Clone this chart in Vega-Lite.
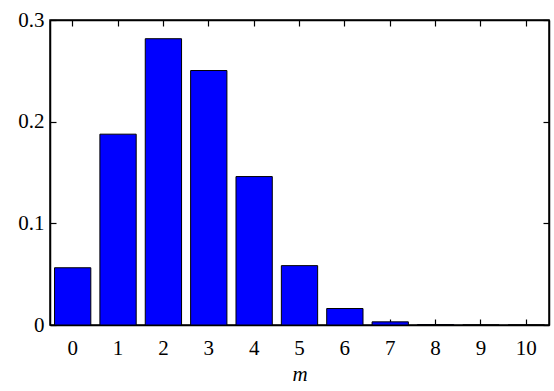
{
  "$schema": "https://vega.github.io/schema/vega-lite/v6.json",
  "width": 499,
  "height": 305,
  "autosize": {"type": "none"},
  "padding": {"left": 50, "top": 20, "right": 5, "bottom": 66},
  "background": "white",
  "view": {"stroke": "black", "strokeWidth": 1.5},
  "data": {
    "values": [
      {"m": 0, "p": 0.0563},
      {"m": 1, "p": 0.1877},
      {"m": 2, "p": 0.2816},
      {"m": 3, "p": 0.2503},
      {"m": 4, "p": 0.146},
      {"m": 5, "p": 0.0584},
      {"m": 6, "p": 0.0162},
      {"m": 7, "p": 0.0031},
      {"m": 8, "p": 0.0004},
      {"m": 9, "p": 0.00003},
      {"m": 10, "p": 0.000001}
    ]
  },
  "layer": [
    {
      "mark": {"type": "bar", "color": "#0000ff", "stroke": "black", "strokeWidth": 1},
      "encoding": {
        "x": {
          "field": "m", "type": "ordinal",
          "scale": {"paddingInner": 0.2, "paddingOuter": 0.1},
          "axis": {"title": "m", "titleFont": "Liberation Serif", "titleFontSize": 21, "titleColor": "black", "titleFontStyle": "italic", "titleFontWeight": "normal", "titlePadding": 5,
                   "labelFont": "Liberation Serif", "labelFontSize": 21, "labelColor": "black", "labelAngle": 0, "labelPadding": 18,
                   "domainColor": "black", "domainWidth": 1.5, "tickColor": "black", "tickWidth": 1.2, "tickSize": -6, "grid": false}
        },
        "y": {
          "field": "p", "type": "quantitative",
          "scale": {"domain": [0, 0.3], "nice": false},
          "axis": {"title": null, "values": [0, 0.1, 0.2, 0.3], "format": "~g",
                   "labelFont": "Liberation Serif", "labelFontSize": 21, "labelColor": "black", "labelPadding": 12,
                   "domainColor": "black", "domainWidth": 1.5, "tickColor": "black", "tickWidth": 1.2, "tickSize": -6, "grid": false}
        }
      }
    },
    {
      "mark": {"type": "bar", "opacity": 0},
      "encoding": {
        "x": {
          "field": "m", "type": "ordinal",
          "axis": {"orient": "top", "title": null, "labels": false, "domain": true, "domainColor": "black", "domainWidth": 1.5, "ticks": true, "tickColor": "black", "tickWidth": 1.2, "tickSize": -6, "grid": false}
        },
        "y": {
          "field": "p", "type": "quantitative",
          "axis": {"orient": "right", "title": null, "labels": false, "domain": true, "domainColor": "black", "domainWidth": 1.5, "ticks": true, "tickColor": "black", "tickWidth": 1.2, "tickSize": -6, "grid": false, "values": [0, 0.1, 0.2, 0.3]}
        }
      }
    }
  ],
  "resolve": {"axis": {"x": "independent", "y": "independent"}}
}
